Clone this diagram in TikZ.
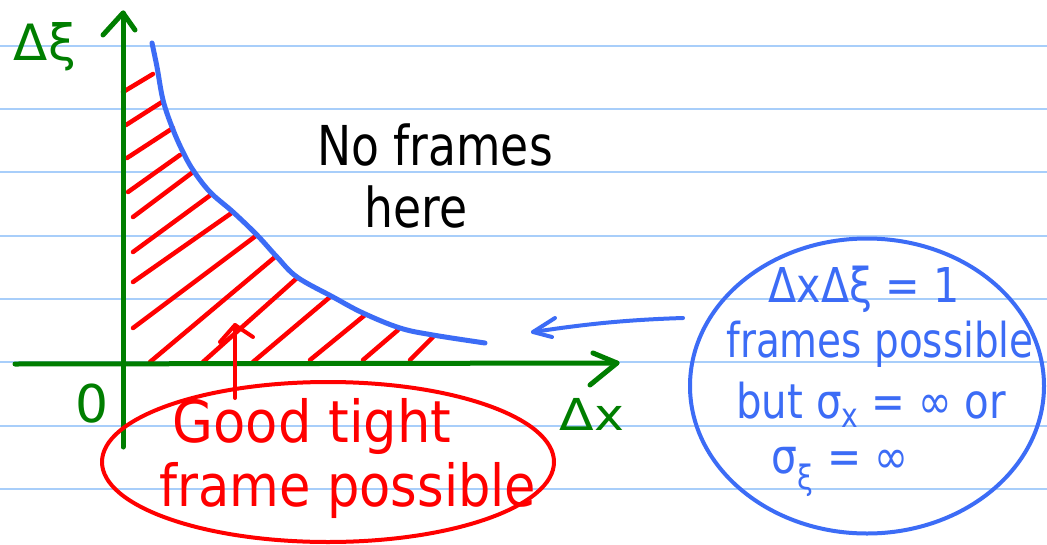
\documentclass[tikz,border=0pt]{standalone}
\usepackage{fontspec}
\usetikzlibrary{shapes.geometric}
\setmainfont{DejaVu Sans}
\definecolor{axgreen}{RGB}{0,126,0}
\definecolor{penred}{RGB}{255,0,0}
\definecolor{penblue}{RGB}{60,108,246}
\definecolor{rulecol}{RGB}{168,206,250}
\begin{document}
\begin{tikzpicture}[x=1pt,y=-1pt,line cap=round,line join=round,
  rule/.style={rulecol,line width=2pt},
  axis/.style={axgreen,line width=5pt},
  curveline/.style={penblue,line width=5pt},
  hatch/.style={penred,line width=4.5pt},
  redpen/.style={penred,line width=4pt},
  bluepen/.style={penblue,line width=4pt},
  lab/.style={inner sep=0pt,anchor=base},
  bigred/.style={lab,penred,font=\fontsize{58}{64}\selectfont},
  bigblk/.style={lab,black,font=\fontsize{55}{60}\selectfont},
  bluetxt/.style={lab,penblue,font=\fontsize{48}{52}\selectfont}]
\useasboundingbox[fill=white] (0,0) rectangle (1047,544);
\foreach \yy in {45.7,109,172.3,235.6,299,362.3,425.6,489}
  \draw[rule] (0,\yy) -- (1047,\yy);
% hatching
\foreach \ax/\ay/\bx/\by in {123/92/153/74, 126/125/162/102, 127/158/173/128, 128/192/180/155,
  133/217/193/172, 133/252/212/194, 133/282/233/212, 133/328/257/235, 150/362/275/257,
  203/362/297/278, 253/362/330/297, 310/360/365/315, 363/360/398/330, 410/360/433/337}
  \draw[hatch] (\ax,\ay) -- (\bx,\by);
% curve
\draw[curveline] plot[smooth,tension=0.6] coordinates {(152,43)(157,67)(163,100)(172,127)(182,150)
  (193,170)(210,192)(233,212)(257,235)(277,257)(297,277)(333,297)(363,313)(400,328)(433,335)(485,343)};
% axes
\coordinate (yb) at (123,447); \coordinate (yt) at (123,13);
\draw[axis] (yb) -- (yt);
\draw[axis] (103,35) -- (yt) -- (135,30);
\coordinate (xl) at (15,364); \coordinate (xr) at (617,363);
\draw[axis] (xl) -- (xr);
\draw[axis] (593,353) -- (xr) -- (590,385);
\node[lab,axgreen,font=\fontsize{50}{54}\selectfont] (yl) at (45,60) {Δξ};
\node[lab,axgreen,font=\fontsize{52}{56}\selectfont] (zero) at (92,422) {0};
\node[lab,axgreen,font=\fontsize{44}{48}\selectfont] (xlab) at (592,430) {\scalebox{1.15}[1]{Δx}};
% no frames
\node[bigblk] (nf) at (435,165) {\scalebox{0.83}[1]{No frames}};
\node[bigblk] (here) at (416,227) {\scalebox{0.83}[1]{here}};
% red ellipse and arrow
\node[draw=penred,line width=4pt,ellipse,minimum width=452pt,minimum height=160pt,inner sep=0pt] (good) at (328,462) {};
\coordinate (rtip) at (235,325);
\draw[redpen] (235,398) -- (rtip);
\draw[redpen] (220,342) -- (rtip) -- (253,337);
\node[bigred] (g1) at (312,442) {\scalebox{0.91}[1]{Good tight}};
\node[bigred] (g2) at (348,506) {\scalebox{0.88}[1]{frame possible}};
% blue circle
\node[draw=penblue,line width=4pt,ellipse,minimum width=354pt,minimum height=295pt,inner sep=0pt] (circ) at (867,386) {};
\coordinate (btip) at (533,332);
\draw[bluepen] (683,318) .. controls (620,320) and (580,325) .. (btip);
\draw[bluepen] (555,318) -- (btip) -- (552,337);
\node[bluetxt] (b1) at (864,302) {\scalebox{0.86}[1]{ΔxΔξ = 1}};
\node[bluetxt] (b2) at (880,357) {\scalebox{0.81}[1]{frames possible}};
\node[bluetxt] (b3) at (871,418) {\scalebox{0.84}[1]{but σ\textsubscript{x} = ∞ or}};
\node[bluetxt] (b4) at (840,473) {\scalebox{0.85}[1]{σ\textsubscript{ξ} = ∞}};
\end{tikzpicture}
\end{document}
